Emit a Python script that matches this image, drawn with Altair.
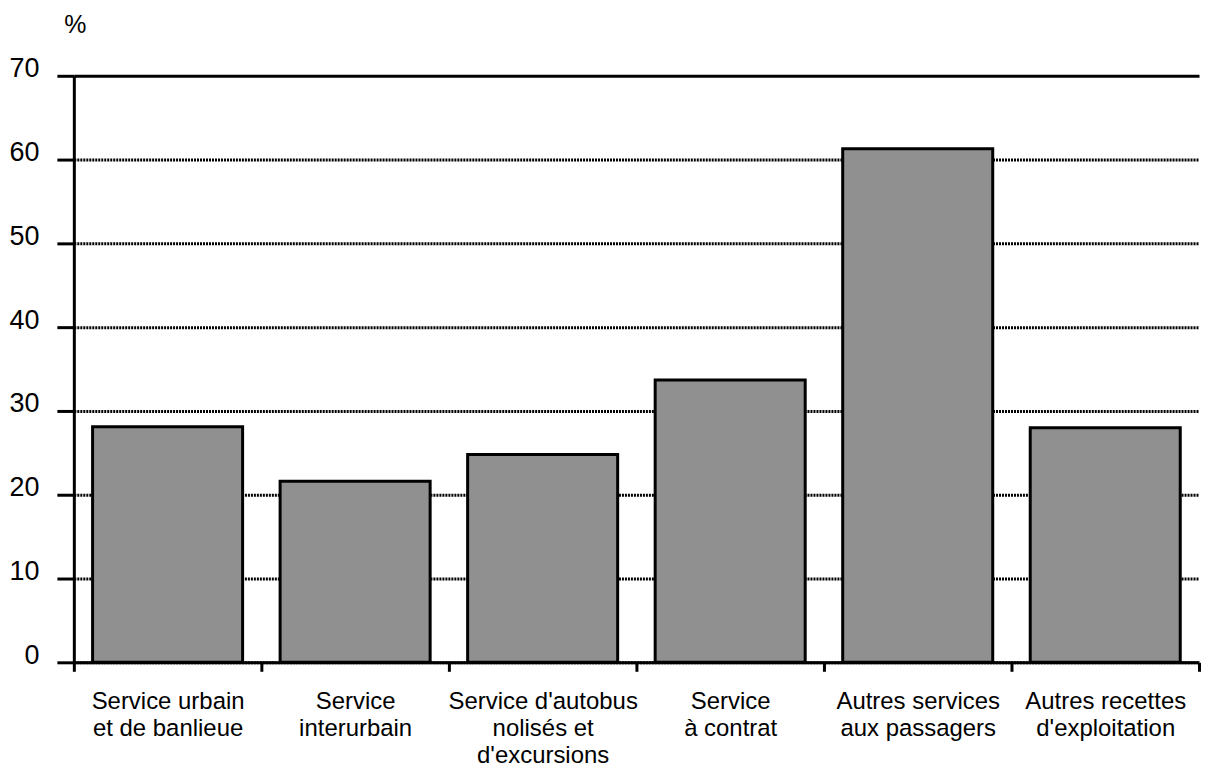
import altair as alt
import pandas as pd

categories = [
    "Service urbain|et de banlieue",
    "Service|interurbain",
    "Service d'autobus|nolisés et|d'excursions",
    "Service|à contrat",
    "Autres services|aux passagers",
    "Autres recettes|d'exploitation",
]
values = [28.1, 21.6, 24.8, 33.7, 61.3, 28.0]
y_ticks = [0, 10, 20, 30, 40, 50, 60, 70]

df = pd.DataFrame({"cat": categories, "val": values})

FONT = "Liberation Sans"

bars = alt.Chart(df).mark_bar(
    fill="#909090", stroke="black", strokeWidth=3,
    width=alt.RelativeBandSize(0.8),
).encode(
    x=alt.X(
        "cat:N",
        sort=categories,
        scale=alt.Scale(paddingInner=0, paddingOuter=0),
        axis=alt.Axis(
            title=None,
            labelAngle=0,
            labelExpr="split(datum.label, '|')",
            labelFont=FONT,
            labelFontSize=24,
            labelLineHeight=27,
            labelColor="black",
            labelPadding=18,
            labelBaseline="top",
            labelLimit=400,
            labelOverlap=False,
            tickBand="extent",
            tickColor="black",
            tickWidth=3,
            tickSize=9,
            domainColor="black",
            domainWidth=3,
            grid=False,
        ),
    ),
    y=alt.Y(
        "val:Q",
        scale=alt.Scale(domain=[0, 70], nice=False),
        axis=alt.Axis(
            values=y_ticks,
            title="%",
            titleAngle=0,
            titleAlign="left",
            titleBaseline="alphabetic",
            titleX=-10,
            titleY=-43,
            titleFont=FONT,
            titleFontSize=25,
            titleFontWeight="normal",
            titleColor="black",
            labelFont=FONT,
            labelFontSize=27,
            labelColor="black",
            labelBaseline="alphabetic",
            labelOffset=1,
            labelPadding=18,
            tickColor="black",
            tickWidth=3,
            tickSize=17,
            domainColor="black",
            domainWidth=3,
            grid=True,
            gridColor="black",
            gridOpacity=1,
            gridWidth=3,
            gridDash={"condition": {"test": "datum.value == 70", "value": []}, "value": [2, 1]},
        ),
    ),
).properties(width=1128, height=588)

chart = bars.configure_view(stroke=None).properties(
    padding={"left": 0, "top": 4, "right": 0, "bottom": 0}
)

chart.save("out.html", embed_options={"renderer": "svg", "actions": False})
